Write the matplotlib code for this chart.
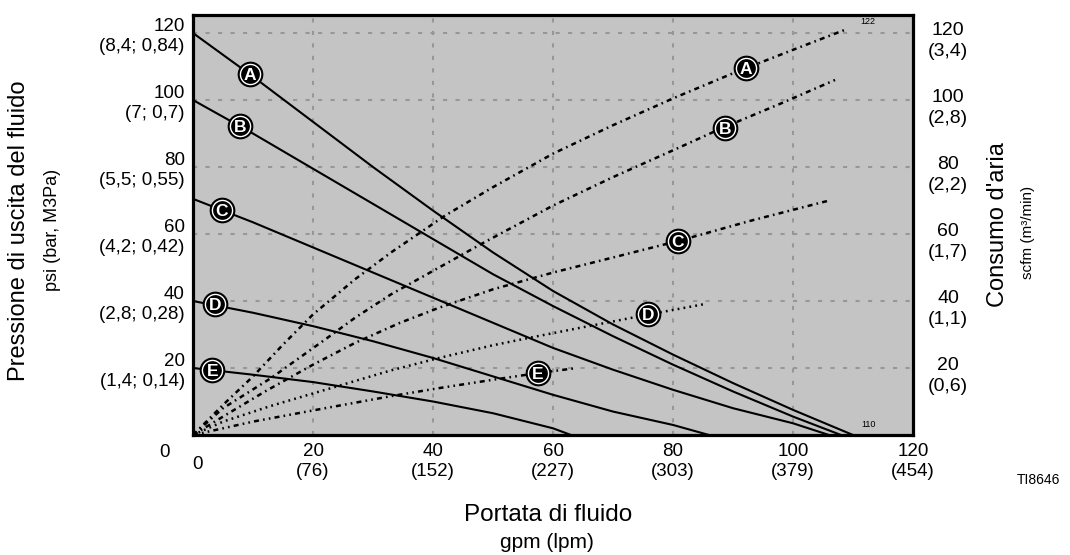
import matplotlib
matplotlib.use("Agg")
import matplotlib.pyplot as plt

plt.rcParams['font.family'] = ['Liberation Sans', 'DejaVu Sans']
plt.rcParams['lines.scale_dashes'] = False

# fluid outlet pressure (psi) vs fluid flow (gpm)
gpm_a = [0, 10, 20, 30, 40, 50, 60, 70, 80, 90, 100, 110]
psi_a = [120, 107, 93.5, 80, 67, 54.5, 43, 33, 24, 15.5, 7.5, 0]
gpm_b = [0, 10, 20, 30, 40, 50, 60, 70, 80, 90, 100, 108]
psi_b = [100, 90, 79.5, 69, 58.5, 48, 38.5, 29.5, 21, 13, 5.5, 0]
gpm_c = [0, 10, 20, 30, 40, 50, 60, 70, 80, 90, 100, 106]
psi_c = [70.5, 63.5, 56, 48.5, 41, 33.5, 26, 19.5, 13.5, 8, 3.5, 0]
gpm_d = [0, 10, 20, 30, 40, 50, 60, 70, 80, 86]
psi_d = [40, 36.5, 32.5, 28, 23, 17.5, 12, 7, 3, 0]
gpm_e = [0, 10, 20, 30, 40, 50, 60, 63]
psi_e = [20, 18, 15.8, 13, 10, 6.5, 2, 0]

# air consumption (scfm) vs fluid flow (gpm)
air_gpm_a = [0, 5, 10, 15, 20, 27, 33, 42, 50, 60, 70, 80, 90, 100, 108.7]
scfm_a = [0, 9, 17.5, 27, 36, 46.5, 54.5, 65.5, 74, 84, 92.5, 100.5, 108, 115, 121]
air_gpm_b = [0, 5, 13, 22, 27, 33, 41, 48, 60, 70, 80, 88, 98, 107]
scfm_b = [0, 8, 17, 28.5, 35, 42, 50, 57, 68.5, 77, 85, 91.5, 99, 106]
air_gpm_c = [0, 5, 12, 20, 27, 34.5, 41, 50, 60, 70, 81, 93, 106]
scfm_c = [0, 5.5, 13, 21, 27.5, 33.5, 38, 43.5, 48.5, 53, 58, 64, 70]
air_gpm_d = [0, 5, 13, 23, 33, 41, 50, 56, 64.5, 76, 85]
scfm_d = [0, 4, 8.7, 14, 19.3, 23, 26.8, 29, 32, 36, 39]
air_gpm_e = [0, 10, 22, 33, 41, 50, 57.5, 64]
scfm_e = [0, 4, 8, 11.6, 14, 16.5, 18.5, 20]

letters = ['A', 'B', 'C', 'D', 'E']
press_lbl_x = [9.5, 7.8, 4.8, 3.7, 3.2]
press_lbl_y = [107.8, 92.2, 67.3, 39.2, 19.5]
air_lbl_x = [92.2, 88.7, 80.8, 75.8, 57.5]
air_lbl_y = [109.6, 91.8, 57.9, 36.1, 18.5]

y_ticks = [20, 40, 60, 80, 100, 120]
left_labels = ['20\n(1,4; 0,14)', '40\n(2,8; 0,28)', '60\n(4,2; 0,42)',
               '80\n(5,5; 0,55)', '100\n(7; 0,7)', '120\n(8,4; 0,84)']
right_labels = ['20\n(0,6)', '40\n(1,1)', '60\n(1,7)', '80\n(2,2)',
                '100\n(2,8)', '120\n(3,4)']
x_ticks = [20, 40, 60, 80, 100, 120]
x_labels = ['20\n(76)', '40\n(152)', '60\n(227)', '80\n(303)',
            '100\n(379)', '120\n(454)']

fig = plt.figure(figsize=(10.7, 5.55), dpi=100)
ax = fig.add_axes([0.1804, 0.2162, 0.6729, 0.7568])
ax.set_facecolor('#c4c4c4')
ax.set_xlim(0, 120)
ax.set_ylim(0, 125.4)
for s in ax.spines.values():
    s.set_linewidth(2.3)
    s.set_color('black')

ax.set_xticks(x_ticks, labels=x_labels)
ax.set_yticks(y_ticks, labels=left_labels)
ax.tick_params(axis='x', length=0, pad=6, labelsize=13.5)
ax.tick_params(axis='y', length=0, pad=6, labelsize=13.5)
ax.grid(True, color='#979797', linewidth=1.5, linestyle=(0, (3, 6)))
ax.set_axisbelow(True)

# pressure curves
for gx, py in [(gpm_a, psi_a), (gpm_b, psi_b), (gpm_c, psi_c),
               (gpm_d, psi_d), (gpm_e, psi_e)]:
    ax.plot(gx, py, color='black', lw=1.5, zorder=3)

# air consumption curves
dash_dot = (0, (3.6, 3, 1.2, 3))
ax.plot(air_gpm_a, scfm_a, color='black', lw=1.8, linestyle=dash_dot, zorder=3)
ax.plot(air_gpm_b, scfm_b, color='black', lw=1.8, linestyle=dash_dot, zorder=3)
ax.plot(air_gpm_c, scfm_c, color='black', lw=1.8, linestyle=dash_dot, zorder=3)
ax.plot(air_gpm_d, scfm_d, color='black', lw=1.8, linestyle=(0, (1.3, 3)), zorder=3)
ax.plot(air_gpm_e, scfm_e, color='black', lw=1.8,
        linestyle=(0, (3.6, 3, 1.2, 3, 1.2, 3)), zorder=3)

# circled letters
for xs, ys in [(press_lbl_x, press_lbl_y), (air_lbl_x, air_lbl_y)]:
    ax.plot(xs, ys, 'o', ms=17.5, color='black', zorder=4)
    ax.plot(xs, ys, 'o', ms=14.5, mfc='black', mec='white', mew=1.0, zorder=5)
    for lt, x, y in zip(letters, xs, ys):
        ax.text(x, y, lt, color='white', fontsize=12.5, fontweight='bold',
                ha='center', va='center_baseline', zorder=6)

ax.text(112.5, 123.6, '122', fontsize=6.5, ha='center', va='center')
ax.text(112.5, 3.0, '110', fontsize=6.5, ha='center', va='center')

# zero labels
ax.text(-4.7, -5.1, '0', fontsize=13.5, ha='center', va='center', clip_on=False)
ax.text(0.7, -8.7, '0', fontsize=13.5, ha='center', va='center', clip_on=False)

# right scale (air consumption)
for v, lab in zip(y_ticks, right_labels):
    ax.text(122.5, v - 2.5, lab, fontsize=14, ha='left', va='center',
            multialignment='center', linespacing=1.3, clip_on=False)

fig.text(0.018, 1 - 231 / 555, 'Pressione di uscita del fluido', rotation=90,
         fontsize=17, ha='center', va='center')
fig.text(0.0486, 1 - 230 / 555, 'psi (bar, M3Pa)', rotation=90,
         fontsize=13, ha='center', va='center')
fig.text(0.9327, 1 - 225 / 555, "Consumo d'aria", rotation=90,
         fontsize=17, ha='center', va='center')
fig.text(0.9607, 1 - 232 / 555, 'scfm (m³/min)', rotation=90,
         fontsize=11, ha='center', va='center')
fig.text(0.512, 1 - 515 / 555, 'Portata di fluido', fontsize=17.5,
         ha='center', va='center')
fig.text(0.511, 1 - 543 / 555, 'gpm (lpm)', fontsize=15,
         ha='center', va='center')
fig.text(1038 / 1070, 1 - 480 / 555, 'TI8646', fontsize=10,
         ha='center', va='center')

fig.savefig('out.png', dpi=100)
